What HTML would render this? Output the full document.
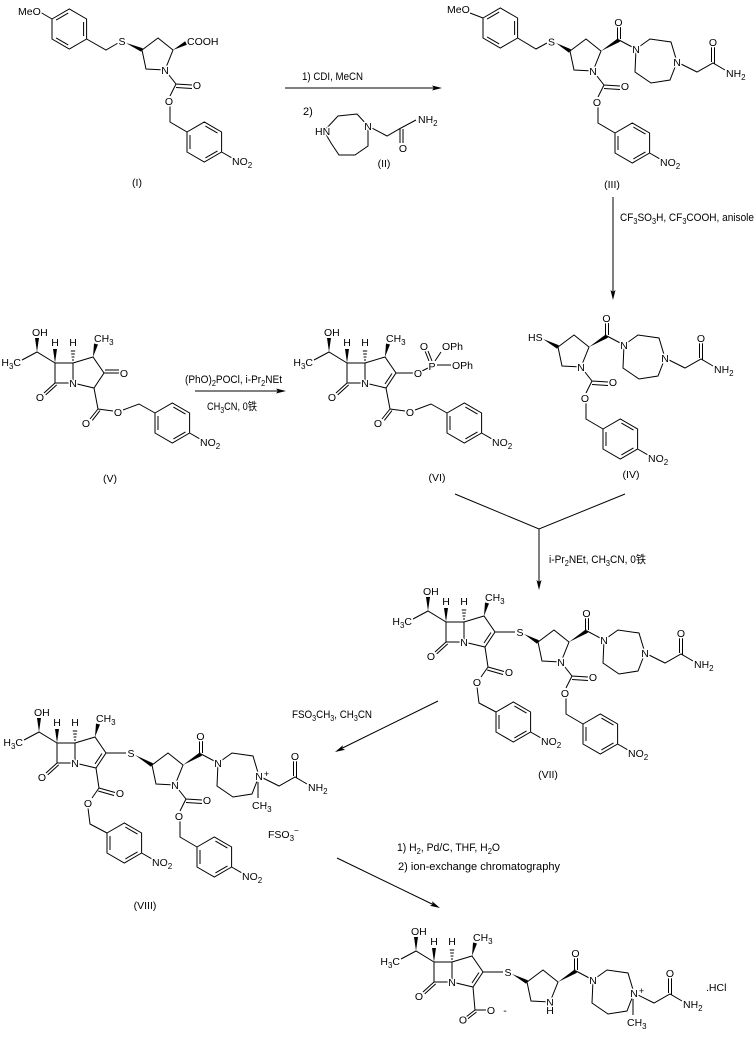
<!DOCTYPE html>
<html><head><meta charset="utf-8">
<style>
html,body{margin:0;padding:0;background:#fff;}
svg{display:block;}
text{font-family:"Liberation Sans","Noto Sans CJK SC",Arial,sans-serif;font-size:10.5px;fill:#000;stroke:#fff;stroke-width:3px;paint-order:stroke;stroke-linejoin:round;}
.c{text-anchor:middle;}
.s{font-size:8px;}
.r{stroke:none;font-size:11px;}
.n{stroke:none;}
path{fill:none;stroke:#000;stroke-width:1;}
polygon{fill:#000;stroke:none;}
</style></head><body>
<svg width="755" height="1040" viewBox="0 0 755 1040" xmlns="http://www.w3.org/2000/svg">
<rect width="755" height="1040" fill="#fff"/>

<!-- ===== (I) ===== -->
<path d="M40 12L52 19 M86.6 39L106 50L118 43"/>
<g transform="translate(52,19)"><path d="M0 0L17.3 -10L34.6 0V20L17.3 30L0 20Z M4.1 1.1L16.2 -5.9 M31.6 3V17 M16.2 25.9L4.1 18.9"/></g>
<polygon points="126,43 141.2,51.8 142.8,48.2"/>
<text x="18" y="15">MeO</text>
<text x="122" y="45" class="c">S</text>
<g transform="translate(142,50)">
 <path d="M0 0L16 -12L31 0L23 20L4 19Z"/>
 <path d="M23 20L34 34L50 35 M34 37.5L50 38.5 M34 34L28 46 M28 56V72L45 82"/>
 <polygon points="31,0 44.9,-5.2 43.1,-8.8"/>
 <g transform="translate(45,82)"><path d="M0 0L17.3 -10L34.6 0V20L17.3 30L0 20Z M3 3V17 M18.4 -5.9L30.5 1.1 M30.5 18.9L18.4 25.9 M34.6 20L44.5 25.7"/><text x="45" y="33">NO<tspan class="s" dy="3">2</tspan></text></g>
 <text x="23" y="24" class="c">N</text>
 <text x="45" y="-5">COOH</text>
 <text x="55" y="39" class="c">O</text>
 <text x="27" y="55" class="c">O</text>
</g>
<text class="c n" x="137" y="186">(I)</text>

<!-- ===== arrow 1 ===== -->
<path d="M285 88H436"/>
<polygon points="442,88 432,85.5 434,88 432,90.5"/>
<text class="r" x="302" y="80" textLength="61" lengthAdjust="spacingAndGlyphs">1) CDI, MeCN</text>
<text class="r" x="303" y="115">2)</text>

<!-- ===== (II) ===== -->
<path d="M324 131L338 116L357 114L368 126L368 146L355 155L339 155L331 143Z M368 126L387 136L401 128L416 120 M400 128V143 M403 129V143"/>
<text x="315" y="135">HN</text>
<text x="368" y="130" class="c">N</text>
<text x="418" y="123">NH<tspan class="s" dy="3">2</tspan></text>
<text x="403" y="152" class="c">O</text>
<text class="c n" x="384" y="167">(II)</text>

<!-- ===== (III) ===== -->
<path d="M470 13L483 18 M517.6 38L536 49L547 43"/>
<g transform="translate(483,18)"><path d="M0 0L17.3 -10L34.6 0V20L17.3 30L0 20Z M4.1 1.1L16.2 -5.9 M31.6 3V17 M16.2 25.9L4.1 18.9"/></g>
<polygon points="556,43 569,52.7 571,49.3"/>
<text x="447" y="13">MeO</text>
<text x="551.5" y="45.5" class="c">S</text>
<g transform="translate(570,51)">
 <path d="M0 0L16 -12L31 0L23 20L4 19Z M47.5 -10V-24 M50.5 -12V-24 M49 -11L66 -2 M66 -2L80 -12L101 -9L107 11L100 29L81 32L65 21Z M107 11L127 21L143 12L155 19 M141.5 11V-4 M144.5 13V-4"/>
 <path d="M23 20L34 34L50 35 M34 37.5L50 38.5 M34 34L28 46 M28 56V72L45 82"/>
 <polygon points="31,0 50,-9.3 48,-12.7"/>
 <g transform="translate(45,82)"><path d="M0 0L17.3 -10L34.6 0V20L17.3 30L0 20Z M3 3V17 M18.4 -5.9L30.5 1.1 M30.5 18.9L18.4 25.9 M34.6 20L44.5 25.7"/><text x="45" y="33">NO<tspan class="s" dy="3">2</tspan></text></g>
 <text x="23" y="24" class="c">N</text>
 <text x="48.5" y="-25" class="c">O</text>
 <text x="66" y="2" class="c">N</text>
 <text x="107" y="15" class="c">N</text>
 <text x="143" y="-5" class="c">O</text>
 <text x="156" y="26">NH<tspan class="s" dy="3">2</tspan></text>
 <text x="55" y="39" class="c">O</text>
 <text x="27" y="55" class="c">O</text>
</g>
<text class="c n" x="612" y="188">(III)</text>

<!-- ===== arrow 2 ===== -->
<path d="M613 197V294"/>
<polygon points="613,300 610.5,290 613,292 615.5,290"/>
<text class="r" x="620" y="221" textLength="134" lengthAdjust="spacingAndGlyphs">CF<tspan class="s" dy="3">3</tspan><tspan dy="-3">SO</tspan><tspan class="s" dy="3">3</tspan><tspan dy="-3">H, CF</tspan><tspan class="s" dy="3">3</tspan><tspan dy="-3">COOH, anisole</tspan></text>

<!-- ===== (IV) ===== -->
<polygon points="543,339 557.1,348.8 558.9,345.2"/>
<text x="528" y="341">HS</text>
<g transform="translate(558,347)">
 <path d="M0 0L16 -12L31 0L23 20L4 19Z M47.5 -10V-24 M50.5 -12V-24 M49 -11L66 -2 M66 -2L80 -12L101 -9L107 11L100 29L81 32L65 21Z M107 11L127 21L143 12L155 19 M141.5 11V-4 M144.5 13V-4"/>
 <path d="M23 20L34 34L50 35 M34 37.5L50 38.5 M34 34L28 46 M28 56V72L45 82"/>
 <polygon points="31,0 50,-9.3 48,-12.7"/>
 <g transform="translate(45,82)"><path d="M0 0L17.3 -10L34.6 0V20L17.3 30L0 20Z M3 3V17 M18.4 -5.9L30.5 1.1 M30.5 18.9L18.4 25.9 M34.6 20L44.5 25.7"/><text x="45" y="33">NO<tspan class="s" dy="3">2</tspan></text></g>
 <text x="23" y="24" class="c">N</text>
 <text x="48.5" y="-25" class="c">O</text>
 <text x="66" y="2" class="c">N</text>
 <text x="107" y="15" class="c">N</text>
 <text x="143" y="-5" class="c">O</text>
 <text x="156" y="26">NH<tspan class="s" dy="3">2</tspan></text>
 <text x="55" y="39" class="c">O</text>
 <text x="27" y="55" class="c">O</text>
</g>
<text class="c n" x="631" y="478">(IV)</text>

<!-- ===== (V) ===== -->
<g transform="translate(55,363)">
 <path d="M0 0H18V20H0Z M0 0L-18 -11L-33 -3 M0 20L-11 30 M1.7 21.9L-9.3 31.9 M18 0L38 -6L49 10L39 25L18 20 M17 -3H19 M16.6 -6H19.4 M16.2 -9H19.8 M15.8 -12H20.2"/>
 <path d="M49 10H64 M50 7H64 M39 25L43 46 M43 46L35 56 M45 47.6L37.3 57.4 M43 46L58 48 M68 47L84 41L100 50"/>
 <polygon points="0,0 -2,-14 2,-14"/>
 <polygon points="-18,-11 -20,-25 -16,-25"/>
 <polygon points="38,-6 43,-18.5 39,-19.5"/>
 <g transform="translate(100,50)"><path d="M0 0L17.3 -10L34.6 0V20L17.3 30L0 20Z M3 3V17 M18.4 -5.9L30.5 1.1 M30.5 18.9L18.4 25.9 M34.6 20L44.5 25.7"/><text x="45" y="33">NO<tspan class="s" dy="3">2</tspan></text></g>
 <text x="0" y="-17" class="c">H</text>
 <text x="18" y="-17" class="c">H</text>
 <text x="-23" y="-27">OH</text>
 <text x="-34" y="3" text-anchor="end">H<tspan class="s" dy="3">3</tspan><tspan dy="-3">C</tspan></text>
 <text x="18" y="24" class="c">N</text>
 <text x="-15" y="38" class="c">O</text>
 <text x="39" y="-21">CH<tspan class="s" dy="3">3</tspan></text>
 <text x="69" y="14" class="c">O</text>
 <text x="31" y="64" class="c">O</text>
 <text x="63" y="53" class="c">O</text>
</g>
<text class="c n" x="110" y="482">(V)</text>

<!-- ===== arrow 3 ===== -->
<path d="M195 391H280"/>
<polygon points="286,391 276,388.5 278,391 276,393.5"/>
<text class="r" x="185" y="383" textLength="97" lengthAdjust="spacingAndGlyphs">(PhO)<tspan class="s" dy="3">2</tspan><tspan dy="-3">POCl, i-Pr</tspan><tspan class="s" dy="3">2</tspan><tspan dy="-3">NEt</tspan></text>
<text class="r" x="207" y="410" textLength="50" lengthAdjust="spacingAndGlyphs">CH<tspan class="s" dy="3">3</tspan><tspan dy="-3">CN, 0铁</tspan></text>

<!-- ===== (VI) ===== -->
<g transform="translate(347,363)">
 <path d="M0 0H18V20H0Z M0 0L-18 -11L-33 -3 M0 20L-11 30 M1.7 21.9L-9.3 31.9 M18 0L38 -6L49 10L39 25L18 20 M17 -3H19 M16.6 -6H19.4 M16.2 -9H19.8 M15.8 -12H20.2"/>
 <path d="M45 10.5L38 21 M49 10H66 M75 8L81 5 M82 -2L78 -12 M85 -2L81 -12 M88 -2L94 -11 M90 2H104 M39 25L43 46 M43 46L35 56 M45 47.6L37.3 57.4 M43 46L58 48 M68 47L84 41L100 50"/>
 <polygon points="0,0 -2,-14 2,-14"/>
 <polygon points="-18,-11 -20,-25 -16,-25"/>
 <polygon points="38,-6 43,-18.5 39,-19.5"/>
 <g transform="translate(100,50)"><path d="M0 0L17.3 -10L34.6 0V20L17.3 30L0 20Z M3 3V17 M18.4 -5.9L30.5 1.1 M30.5 18.9L18.4 25.9 M34.6 20L44.5 25.7"/><text x="45" y="33">NO<tspan class="s" dy="3">2</tspan></text></g>
 <text x="0" y="-17" class="c">H</text>
 <text x="18" y="-17" class="c">H</text>
 <text x="-23" y="-27">OH</text>
 <text x="-34" y="3" text-anchor="end">H<tspan class="s" dy="3">3</tspan><tspan dy="-3">C</tspan></text>
 <text x="18" y="24" class="c">N</text>
 <text x="-15" y="38" class="c">O</text>
 <text x="39" y="-21">CH<tspan class="s" dy="3">3</tspan></text>
 <text x="71" y="14" class="c">O</text>
 <text x="85" y="7" class="c">P</text>
 <text x="77" y="-13" class="c">O</text>
 <text x="95" y="-13">OPh</text>
 <text x="105" y="6">OPh</text>
 <text x="31" y="64" class="c">O</text>
 <text x="63" y="53" class="c">O</text>
</g>
<text class="c n" x="437" y="481">(VI)</text>

<!-- ===== join arrow ===== -->
<path d="M455 494L539 529L625 494 M539 529V584"/>
<polygon points="539,590 536.5,580 539,582 541.5,580"/>
<text class="r" x="549" y="563" textLength="97" lengthAdjust="spacingAndGlyphs">i-Pr<tspan class="s" dy="3">2</tspan><tspan dy="-3">NEt, CH</tspan><tspan class="s" dy="3">3</tspan><tspan dy="-3">CN, 0铁</tspan></text>

<!-- ===== (VII) ===== -->
<g transform="translate(446,622)">
 <path d="M0 0H18V20H0Z M0 0L-18 -11L-33 -3 M0 20L-11 30 M1.7 21.9L-9.3 31.9 M18 0L38 -6L49 10L39 25L18 20 M17 -3H19 M16.6 -6H19.4 M16.2 -9H19.8 M15.8 -12H20.2"/>
 <path d="M45 10.5L38 21 M49 10H69 M39 25L42 45 M42 45L58 49.5 M41.2 48L57 52.5 M42 45L35 55 M31 65L33 81L50 90"/>
 <polygon points="0,0 -2,-14 2,-14"/>
 <polygon points="-18,-11 -20,-25 -16,-25"/>
 <polygon points="38,-6 43,-18.5 39,-19.5"/>
 <g transform="translate(50,90)"><path d="M0 0L17.3 -10L34.6 0V20L17.3 30L0 20Z M3 3V17 M18.4 -5.9L30.5 1.1 M30.5 18.9L18.4 25.9 M34.6 20L44.5 25.7"/><text x="45" y="33">NO<tspan class="s" dy="3">2</tspan></text></g>
 <text x="0" y="-17" class="c">H</text>
 <text x="18" y="-17" class="c">H</text>
 <text x="-23" y="-27">OH</text>
 <text x="-34" y="3" text-anchor="end">H<tspan class="s" dy="3">3</tspan><tspan dy="-3">C</tspan></text>
 <text x="18" y="24" class="c">N</text>
 <text x="-15" y="38" class="c">O</text>
 <text x="39" y="-21">CH<tspan class="s" dy="3">3</tspan></text>
 <text x="74" y="14" class="c">S</text>
 <text x="63" y="54" class="c">O</text>
 <text x="31" y="64" class="c">O</text>
</g>
<polygon points="524,634 537,643.7 539,640.3"/>
<g transform="translate(538,642)">
 <path d="M0 0L16 -12L31 0L23 20L4 19Z M47.5 -10V-24 M50.5 -12V-24 M49 -11L66 -2 M66 -2L80 -12L101 -9L107 11L100 29L81 32L65 21Z M107 11L127 21L143 12L155 19 M141.5 11V-4 M144.5 13V-4"/>
 <path d="M23 20L34 34L50 35 M34 37.5L50 38.5 M34 34L28 46 M28 56V72L45 82"/>
 <polygon points="31,0 50,-9.3 48,-12.7"/>
 <g transform="translate(45,82)"><path d="M0 0L17.3 -10L34.6 0V20L17.3 30L0 20Z M3 3V17 M18.4 -5.9L30.5 1.1 M30.5 18.9L18.4 25.9 M34.6 20L44.5 25.7"/><text x="45" y="33">NO<tspan class="s" dy="3">2</tspan></text></g>
 <text x="23" y="24" class="c">N</text>
 <text x="48.5" y="-25" class="c">O</text>
 <text x="66" y="2" class="c">N</text>
 <text x="107" y="15" class="c">N</text>
 <text x="143" y="-5" class="c">O</text>
 <text x="156" y="26">NH<tspan class="s" dy="3">2</tspan></text>
 <text x="55" y="39" class="c">O</text>
 <text x="27" y="55" class="c">O</text>
</g>
<text class="c n" x="548" y="778">(VII)</text>

<!-- ===== arrow 4 ===== -->
<path d="M438 701L342.5 748"/>
<polygon points="335,752 345.1,749.8 342.2,748.4 342.9,745.3"/>
<text class="r" x="292" y="718" textLength="80" lengthAdjust="spacingAndGlyphs">FSO<tspan class="s" dy="3">3</tspan><tspan dy="-3">CH</tspan><tspan class="s" dy="3">3</tspan><tspan dy="-3">, CH</tspan><tspan class="s" dy="3">3</tspan><tspan dy="-3">CN</tspan></text>

<!-- ===== (VIII) ===== -->
<g transform="translate(57,743)">
 <path d="M0 0H18V20H0Z M0 0L-18 -11L-33 -3 M0 20L-11 30 M1.7 21.9L-9.3 31.9 M18 0L38 -6L49 10L39 25L18 20 M17 -3H19 M16.6 -6H19.4 M16.2 -9H19.8 M15.8 -12H20.2"/>
 <path d="M45 10.5L38 21 M49 10H69 M39 25L42 45 M42 45L58 49.5 M41.2 48L57 52.5 M42 45L35 55 M31 65L33 81L50 90"/>
 <polygon points="0,0 -2,-14 2,-14"/>
 <polygon points="-18,-11 -20,-25 -16,-25"/>
 <polygon points="38,-6 43,-18.5 39,-19.5"/>
 <g transform="translate(50,90)"><path d="M0 0L17.3 -10L34.6 0V20L17.3 30L0 20Z M3 3V17 M18.4 -5.9L30.5 1.1 M30.5 18.9L18.4 25.9 M34.6 20L44.5 25.7"/><text x="45" y="33">NO<tspan class="s" dy="3">2</tspan></text></g>
 <text x="0" y="-17" class="c">H</text>
 <text x="18" y="-17" class="c">H</text>
 <text x="-23" y="-27">OH</text>
 <text x="-34" y="3" text-anchor="end">H<tspan class="s" dy="3">3</tspan><tspan dy="-3">C</tspan></text>
 <text x="18" y="24" class="c">N</text>
 <text x="-15" y="38" class="c">O</text>
 <text x="39" y="-21">CH<tspan class="s" dy="3">3</tspan></text>
 <text x="74" y="14" class="c">S</text>
 <text x="63" y="54" class="c">O</text>
 <text x="31" y="64" class="c">O</text>
</g>
<polygon points="135,755 151,766.7 153,763.3"/>
<g transform="translate(152,765)">
 <path d="M0 0L16 -12L31 0L23 20L4 19Z M47.5 -10V-24 M50.5 -12V-24 M49 -11L66 -2 M66 -2L80 -12L101 -9L107 11L100 29L81 32L65 21Z M107 11L127 21L143 12L155 19 M141.5 11V-4 M144.5 13V-4 M106 17V33"/>
 <path d="M23 20L34 34L50 35 M34 37.5L50 38.5 M34 34L28 46 M28 56V72L45 82"/>
 <polygon points="31,0 50,-9.3 48,-12.7"/>
 <g transform="translate(45,82)"><path d="M0 0L17.3 -10L34.6 0V20L17.3 30L0 20Z M3 3V17 M18.4 -5.9L30.5 1.1 M30.5 18.9L18.4 25.9 M34.6 20L44.5 25.7"/><text x="45" y="33">NO<tspan class="s" dy="3">2</tspan></text></g>
 <text x="23" y="24" class="c">N</text>
 <text x="48.5" y="-25" class="c">O</text>
 <text x="66" y="2" class="c">N</text>
 <text x="107" y="15" class="c">N</text>
 <text x="114.5" y="12" class="c" style="font-size:9px">+</text>
 <text x="100" y="44">CH<tspan class="s" dy="3">3</tspan></text>
 <text x="143" y="-5" class="c">O</text>
 <text x="156" y="26">NH<tspan class="s" dy="3">2</tspan></text>
 <text x="55" y="39" class="c">O</text>
 <text x="27" y="55" class="c">O</text>
</g>
<text class="n" x="268" y="838">FSO<tspan class="s" dy="3">3</tspan><tspan class="s" dy="-8">−</tspan></text>
<text class="c n" x="145" y="909">(VIII)</text>

<!-- ===== arrow 5 ===== -->
<path d="M337 858L433 904.5"/>
<polygon points="440,908 429.9,905.8 432.8,904.5 432.1,901.3"/>
<text class="r" x="397" y="851" textLength="103" lengthAdjust="spacingAndGlyphs">1) H<tspan class="s" dy="3">2</tspan><tspan dy="-3">, Pd/C, THF, H</tspan><tspan class="s" dy="3">2</tspan><tspan dy="-3">O</tspan></text>
<text class="r" x="398" y="870" textLength="162" lengthAdjust="spacingAndGlyphs">2) ion-exchange chromatography</text>

<!-- ===== final product ===== -->
<g transform="translate(434,962)">
 <path d="M0 0H18V20H0Z M0 0L-18 -11L-33 -3 M0 20L-11 30 M1.7 21.9L-9.3 31.9 M18 0L38 -6L49 10L39 25L18 20 M17 -3H19 M16.6 -6H19.4 M16.2 -9H19.8 M15.8 -12H20.2"/>
 <path d="M45 10.5L38 21 M49 10H69 M39 25L41 48 M41 48L32 55 M42.5 50L33.5 57 M41 48H52"/>
 <polygon points="0,0 -2,-14 2,-14"/>
 <polygon points="-18,-11 -20,-25 -16,-25"/>
 <polygon points="38,-6 43,-18.5 39,-19.5"/>
 <text x="0" y="-17" class="c">H</text>
 <text x="18" y="-17" class="c">H</text>
 <text x="-23" y="-27">OH</text>
 <text x="-34" y="3" text-anchor="end">H<tspan class="s" dy="3">3</tspan><tspan dy="-3">C</tspan></text>
 <text x="18" y="24" class="c">N</text>
 <text x="-15" y="38" class="c">O</text>
 <text x="39" y="-21">CH<tspan class="s" dy="3">3</tspan></text>
 <text x="74" y="14" class="c">S</text>
 <text x="29" y="61.5" class="c">O</text>
 <text x="57" y="52" class="c">O</text>
 <text x="71" y="52" class="c n">-</text>
</g>
<polygon points="512,974 526.1,983.8 527.9,980.2"/>
<g transform="translate(527,982)">
 <path d="M0 0L16 -12L31 0L23 20L4 19Z M47.5 -10V-24 M50.5 -12V-24 M49 -11L66 -2 M66 -2L80 -12L101 -9L107 11L100 29L81 32L65 21Z M107 11L127 21L143 12L155 19 M141.5 11V-4 M144.5 13V-4 M106 17V33"/>
 <polygon points="31,0 50,-9.3 48,-12.7"/>
 <text x="23" y="24" class="c">N</text>
 <text x="23" y="32" class="c">H</text>
 <text x="48.5" y="-25" class="c">O</text>
 <text x="66" y="2" class="c">N</text>
 <text x="107" y="15" class="c">N</text>
 <text x="114.5" y="12" class="c" style="font-size:9px">+</text>
 <text x="100" y="44">CH<tspan class="s" dy="3">3</tspan></text>
 <text x="143" y="-5" class="c">O</text>
 <text x="156" y="26">NH<tspan class="s" dy="3">2</tspan></text>
</g>
<text class="n" x="706" y="991">.HCl</text>

</svg>
</body></html>
